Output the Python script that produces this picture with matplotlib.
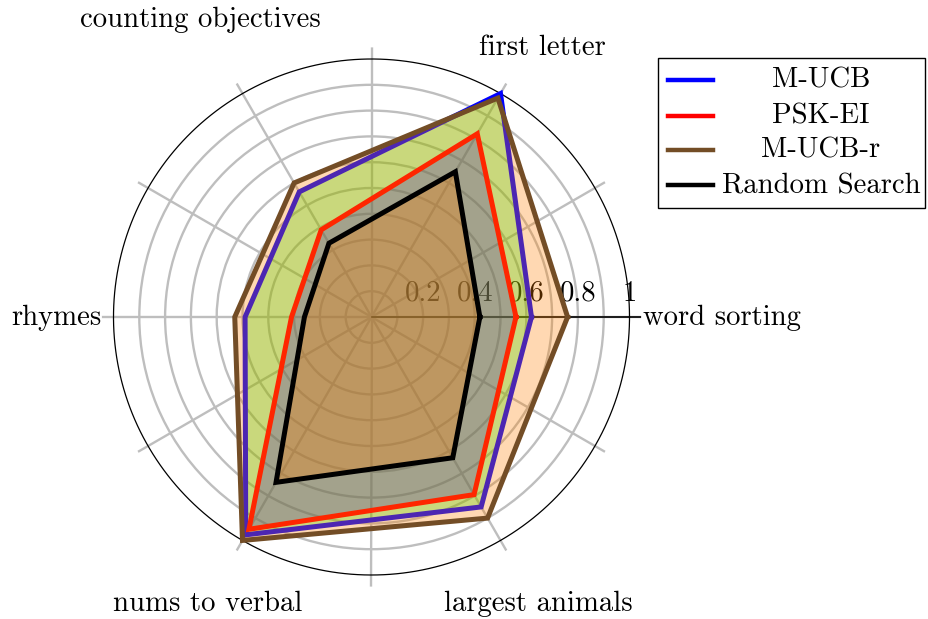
import numpy as np
import matplotlib
matplotlib.use("Agg")
import matplotlib.pyplot as plt
from matplotlib.lines import Line2D
from matplotlib.patches import Rectangle

# ---- data ----
categories = ["word sorting", "first letter", "counting objectives",
              "rhymes", "nums to verbal", "largest animals"]
series_names = ["M-UCB", "PSK-EI", "M-UCB-r", "Random Search"]
m_ucb = [0.62, 1.00, 0.56, 0.49, 0.975, 0.85]
psk_ei = [0.56, 0.82, 0.39, 0.31, 0.95, 0.795]
m_ucb_r = [0.76, 0.98, 0.60, 0.53, 1.00, 0.90]
random_search = [0.42, 0.65, 0.33, 0.26, 0.74, 0.63]
r_tick_values = [0.2, 0.4, 0.6, 0.8, 1.0]
r_tick_labels = ["0.2", "0.4", "0.6", "0.8", "1"]

line_colors = ["#0000ff", "#ff0000", "#734d26", "#000000"]
fill_colors = ["#00ff00", "#0000ff", "#ff8000", "#ff8000"]

FONT = "cmr10"
FS = 20.7

W, H = 929, 619
fig = plt.figure(figsize=(W / 100, H / 100), dpi=100)

cx, cy, R = 371.5, 317.0, 258.0
RMAX = 1.045
Rp = R * RMAX
ax = fig.add_axes([(cx - Rp) / W, (H - cy - Rp) / H, 2 * Rp / W, 2 * Rp / H],
                  projection="polar")
ax.set_ylim(0, RMAX)
ax.set_axisbelow(True)
ax.spines["polar"].set_visible(False)
ax.set_xticks(np.deg2rad(np.arange(0, 360, 30)))
ax.set_yticks(np.arange(0.1, 0.95, 0.1))
ax.set_xticklabels([])
ax.set_yticklabels([])
ax.grid(True, color="#bebebe", linewidth=1.7)
ax.patch.set_visible(False)

# outer black circle and the 0-degree axis line
tt = np.linspace(0, 2 * np.pi, 500)
ax.plot(tt, np.ones_like(tt), color="black", lw=0.9, zorder=0.8)
ax.plot([0, 0], [0, RMAX], color="black", lw=1.2, zorder=0.8)

# radial tick labels (drawn under the fills)
for v, lab in zip(r_tick_values, r_tick_labels):
    ax.annotate(lab, xy=(0, v), xytext=(0, 7.5), textcoords="offset points",
                ha="center", va="bottom", fontsize=FS, family=FONT,
                zorder=0.9, annotation_clip=False)

n = len(categories)
theta = np.deg2rad(np.arange(n) * 360.0 / n)
theta_c = np.append(theta, theta[0])

all_series = [m_ucb, psk_ei, m_ucb_r, random_search]
for i, vals in enumerate(all_series):
    v = np.append(vals, vals[0])
    ax.fill(theta_c, v, color=fill_colors[i], alpha=0.3, lw=0, zorder=2 + i)
    ax.plot(theta_c, v, color=line_colors[i], lw=3.6, zorder=2 + i,
            solid_joinstyle="miter")

# category labels (pixel positions)
label_pos = {
    "word sorting": (643, 325, "left"),
    "first letter": (542, 55, "center"),
    "counting objectives": (200, 27, "center"),
    "rhymes": (102, 325, "right"),
    "nums to verbal": (208, 611, "center"),
    "largest animals": (538, 611, "center"),
}
for cat in categories:
    x, y, ha = label_pos[cat]
    fig.text(x / W, 1 - y / H, cat, ha=ha, va="baseline", fontsize=FS,
             family=FONT)

# legend (manual, centered text like pgfplots)
bx0, by0, bx1, by1 = 658, 58, 925, 208
fig.patches.append(Rectangle((bx0 / W, 1 - by1 / H), (bx1 - bx0) / W,
                             (by1 - by0) / H, transform=fig.transFigure,
                             fill=False, edgecolor="black", lw=1.0))
rows_y = [80, 116, 150, 185]
for name, col, y in zip(series_names, line_colors, rows_y):
    fig.lines.append(Line2D([668 / W, 713 / W], [1 - y / H, 1 - y / H],
                            transform=fig.transFigure, color=col, lw=3.2))
    fig.text(821 / W, 1 - (y + 8) / H, name, ha="center", va="baseline",
             fontsize=FS, family=FONT)

fig.savefig("out.png", dpi=100)
